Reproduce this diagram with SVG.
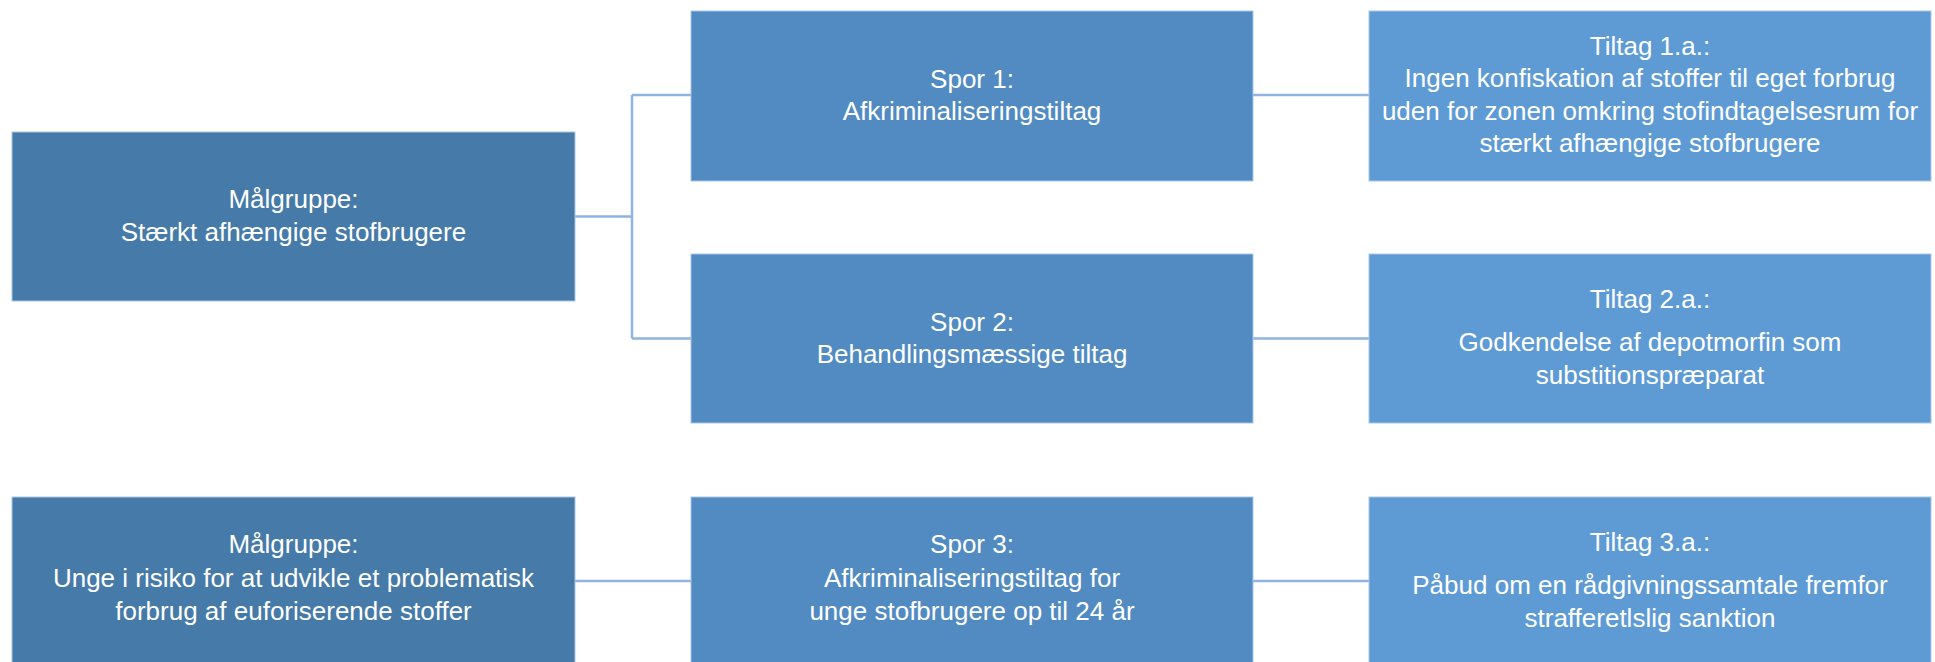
<svg xmlns="http://www.w3.org/2000/svg" width="1935" height="662" viewBox="0 0 1935 662">
<style>
.box{stroke:#a9c6e6;stroke-width:1}
.l{fill:#467aa8}
.m{fill:#518bc1}
.r{fill:#5e9bd4}
text{font-family:"Liberation Sans",Arial,sans-serif;font-size:26px;fill:#ffffff;text-anchor:middle}
.c{fill:none;stroke:#8fb4e0;stroke-width:2.5}
</style>
<rect width="1935" height="662" fill="#ffffff"/>
<g id="connectors">
<path class="c" d="M575 216.5H632M632 95V338.5M632 95H691M632 338.5H691"/>
<path class="c" d="M1253 95H1369M1253 338.5H1369M1253 581H1369M575 581H691"/>
</g>
<g id="target1">
<rect class="box l" x="12" y="132" width="563" height="169"/>
<text x="293.5" y="208">Målgruppe:</text>
<text x="293.5" y="241">Stærkt afhængige stofbrugere</text>
</g>
<g id="spor1">
<rect class="box m" x="691" y="11" width="562" height="170"/>
<text x="972" y="88">Spor 1:</text>
<text x="972" y="120">Afkriminaliseringstiltag</text>
</g>
<g id="tiltag1">
<rect class="box r" x="1369" y="11" width="562" height="170"/>
<text x="1650" y="55">Tiltag 1.a.:</text>
<text x="1650" y="87">Ingen konfiskation af stoffer til eget forbrug</text>
<text x="1650" y="120">uden for zonen omkring stofindtagelsesrum for</text>
<text x="1650" y="152">stærkt afhængige stofbrugere</text>
</g>
<g id="spor2">
<rect class="box m" x="691" y="254" width="562" height="169"/>
<text x="972" y="331">Spor 2:</text>
<text x="972" y="363">Behandlingsmæssige tiltag</text>
</g>
<g id="tiltag2">
<rect class="box r" x="1369" y="254" width="562" height="169"/>
<text x="1650" y="308">Tiltag 2.a.:</text>
<text x="1650" y="351">Godkendelse af depotmorfin som</text>
<text x="1650" y="384">substitionspræparat</text>
</g>
<g id="target2">
<rect class="box l" x="12" y="497" width="563" height="170"/>
<text x="293.5" y="553">Målgruppe:</text>
<text x="293.5" y="587">Unge i risiko for at udvikle et problematisk</text>
<text x="293.5" y="620">forbrug af euforiserende stoffer</text>
</g>
<g id="spor3">
<rect class="box m" x="691" y="497" width="562" height="170"/>
<text x="972" y="553">Spor 3:</text>
<text x="972" y="587">Afkriminaliseringstiltag for</text>
<text x="972" y="620">unge stofbrugere op til 24 år</text>
</g>
<g id="tiltag3">
<rect class="box r" x="1369" y="497" width="562" height="170"/>
<text x="1650" y="551">Tiltag 3.a.:</text>
<text x="1650" y="594">Påbud om en rådgivningssamtale fremfor</text>
<text x="1650" y="627">strafferetlslig sanktion</text>
</g>
</svg>
